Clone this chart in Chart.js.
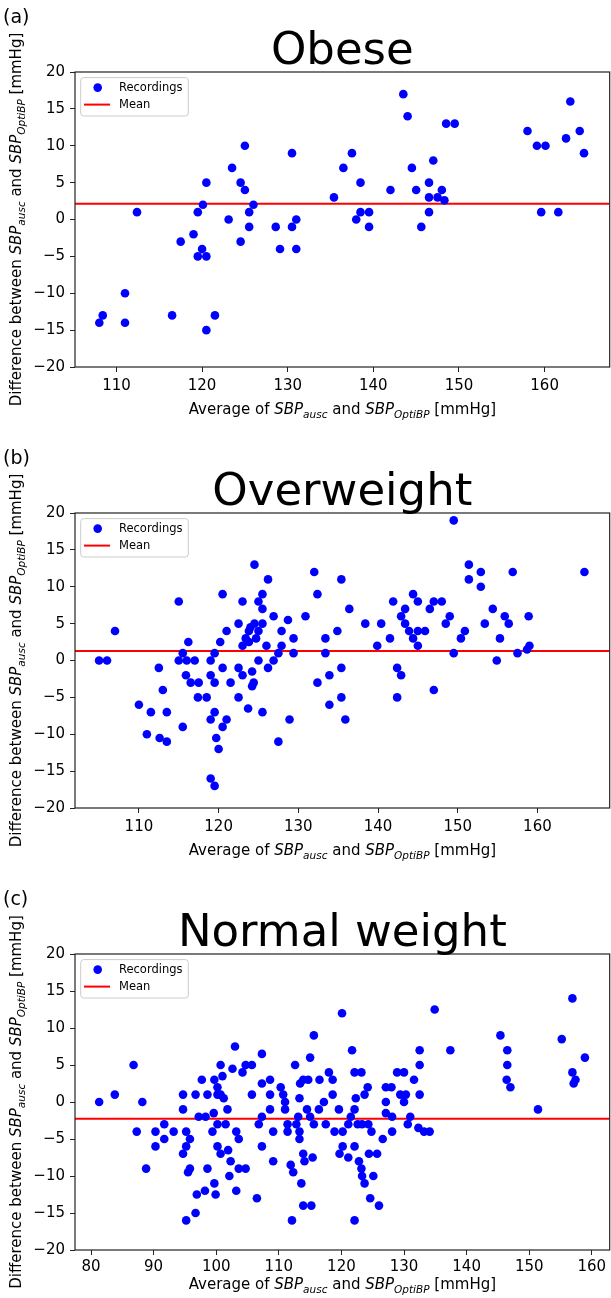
<!DOCTYPE html>
<html>
<head>
<meta charset="utf-8">
<script src="https://cdn.jsdelivr.net/npm/chart.js@4.4.1/dist/chart.umd.min.js"></script>
<style>
  html, body { margin: 0; padding: 0; background: #fff; }
  #wrap { position: relative; width: 611px; height: 1298px; overflow: hidden; }
  canvas { position: absolute; left: 0; }
</style>
</head>
<body>
<div id="wrap">
  <canvas id="chartA" width="614" height="441" style="top:0px"></canvas>
  <canvas id="chartB" width="614" height="441" style="top:441px"></canvas>
  <canvas id="chartC" width="614" height="416" style="top:882px"></canvas>
</div>
<script>
// (a) Obese
const obeseX = [108.0, 108.4, 111.0, 111.0, 112.4, 116.5, 117.5, 119.0, 119.5, 120.1, 120.5, 120.0, 119.5, 120.5, 120.5,
  121.5, 123.1, 123.5, 124.5, 125.0, 125.0, 125.5, 126.0, 125.5, 124.5, 128.6, 129.1, 130.5, 130.5, 131.0, 131.0,
  135.4, 136.5, 137.5, 138.5, 138.0, 138.5, 139.5, 139.5, 142.0, 143.5, 144.0, 144.5, 145.0, 145.6, 146.5, 147.0,
  146.5, 146.5, 147.5, 148.0, 148.3, 148.5, 149.5, 158.0, 159.1, 160.1, 159.6, 161.6, 162.5, 163.0, 164.1, 164.6];
const obeseY = [-14, -13, -10, -14, 1, -13, -3, -2, 1, 2, 5, -4, -5, -5, -15,
  -13, 0, 7, 5, 4, 10, 1, 2, -1, -3, -1, -4, 9, -1, 0, -4,
  3, 7, 9, 5, 0, 1, 1, -1, 4, 17, 14, 7, 4, -1, 5, 8,
  3, 1, 3, 4, 2.6, 13, 13, 12, 10, 10, 1, 1, 11, 16, 12, 9];
const obeseMean = 2.15;

// (b) Overweight
const overX = [105.0, 106.0, 107.0, 110.0, 111.0, 111.5, 112.5, 112.6, 113.0, 113.5, 113.5, 115.0, 115.5, 115.0, 116.0,
  117.0, 115.5, 116.2, 115.9, 116.5, 117.5, 117.4, 118.5, 119.0, 119.0, 119.5, 119.5, 119.5, 119.0, 119.7,
  120.0, 119.0, 119.5, 120.5, 120.5, 121.0, 120.2, 120.5, 121.0, 121.5, 122.5, 122.5, 123.0, 122.5, 123.0,
  123.0, 123.4, 123.8, 123.8, 124.2, 124.4, 124.2, 123.7, 124.5, 124.5, 125.0, 125.0, 125.5, 125.5, 125.5,
  125.5, 125.0, 126.0, 126.2, 126.2, 124.0, 124.7,
  126.9, 126.9, 127.5, 127.9, 127.9, 128.7, 127.5, 128.9, 129.4, 129.4, 130.9, 132.0, 132.4, 132.4, 133.4,
  133.4, 133.9, 133.9, 134.9, 135.4, 135.4, 135.4, 135.9, 136.4, 138.4, 139.9, 140.4, 141.5, 141.9, 142.4,
  142.9, 142.4, 142.9, 143.4, 144.4, 145.0, 143.4, 143.9, 144.4, 145.0, 145.0, 145.9, 146.5, 147.0, 148.0,
  147.0, 148.5, 149.0, 149.5, 149.5,
  151.4, 151.4, 152.9, 152.9, 156.9, 165.9, 154.4, 155.9, 156.4, 153.4, 158.9, 150.9, 150.4, 155.3, 154.9,
  157.5, 158.7, 159.0];
const overY = [0, 0, 4, -6, -10, -7, -1, -10.5, -4, -7, -11, 8, 1, 0, 0,
  0, -9, 2.5, -2, -3, -3, -5, -5, 0, -2, 1, -3, -7, -8, -10.5,
  -12, -16, -17, 9, -1, 4, 2.5, -9, -8, -3, -5, -1, -2, 5, 8,
  2, 3, 2.5, 4, -1.5, -3, -3.5, -6.5, 13, 5, 0, 8, 9, 7, 5,
  -7, 4, 2, 11, -1, 4.5, 3,
  6, 0, 1, 4, 2, 5.5, -11, -8, 3, 1, 6, 12, 9, -3, 3,
  1, -2, -6, 4, 11, -1, -5, -8, 7, 5, 2, 5, 3, 8, -1,
  -2, -5, 6, 7, 9, 8, 5, 4, 3, 4, 2, 4, 7, 8, 8,
  -4, 5, 6, 19, 1,
  13, 11, 12, 10, 12, 12, 7, 6, 5, 5, 6, 4, 3, 3, 0,
  1, 1.5, 2];
const overMean = 1.3;

// (c) Normal weight
const normalX = [81.3, 83.8, 86.8, 88.2, 87.3, 88.8, 90.3, 90.3, 91.7, 91.7, 93.2, 94.7, 94.7, 95.2, 95.8,
  95.2, 94.7, 95.8, 95.5, 95.2, 96.7, 96.7, 96.9, 98.2, 97.7, 97.2, 98.3, 98.6, 98.6, 99.7,
  99.7, 99.9, 100.2, 100.2, 99.6, 99.4, 100.7, 101.0, 100.7, 101.2, 100.2, 100.7, 101.8, 101.5, 100.2,
  101.9, 102.3, 102.1, 103.0, 102.6, 103.2, 103.6, 103.2, 103.6, 104.7, 104.2, 104.7, 105.7, 105.7, 106.5,
  107.3, 107.3, 107.3, 106.8, 107.3, 108.6, 108.6, 108.6, 109.1, 109.1, 110.3, 110.7, 111.0, 111.0, 111.4,
  111.4, 111.9, 112.3, 112.1, 112.6, 113.1, 113.3, 112.8, 113.3, 113.3, 113.9, 114.1, 113.6, 113.4, 113.9,
  115.2, 113.9, 114.7, 115.0, 115.6, 115.4, 114.5, 115.0, 115.6, 116.5, 116.4, 117.2, 117.5, 118.0, 118.6,
  118.6, 118.9, 120.2, 119.6, 120.1, 119.7, 120.2, 121.1, 121.1, 121.5, 121.7, 122.1, 122.1, 122.1, 123.2,
  122.3, 122.6, 123.3, 123.7, 124.2, 122.8, 123.2, 123.3, 123.7, 122.1, 124.3, 124.8, 124.4, 125.7, 125.1,
  124.6, 126.0, 126.6, 127.1, 127.1, 127.1, 128.0, 128.1, 128.1, 128.9, 130.0, 129.4, 130.3, 130.0, 130.6,
  131.0, 131.6, 132.5, 132.5, 132.5, 132.3, 133.2, 134.1, 134.9, 137.4, 145.4, 146.5, 146.5, 146.4, 147.0,
  151.4, 155.2, 156.9, 156.9, 157.4, 157.1, 158.9];
const normalY = [0, 1, 5, 0, -4, -9, -4, -6, -3, -5, -4, 1, -1, -4, -5,
  -6, -7, -9, -9.5, -16, -15, 1, -12.5, -12, 3, -2, -2, 1, -9, 3,
  -11, -12.5, 2, 1, -1.5, -4, 5, 3.5, 1, 0.5, -6, -7, -1, -3, -3,
  -6.5, -8, -10, 7.5, 4.5, -4, -5, -12, -9, -9, 4, 5, 5, 1, -13,
  6.5, 2.5, -2, -3, -6, 3, 1, -1, -4, -8, 2, 1, 0, -1, -3,
  -4, -8.5, -9.5, -16, 5, -2, 0.5, -3, -4, -5, -7, -8, -11, 2.5, -14,
  -14, 3, 3, 6, 9, -7.5, -1, -2, -3, 3, -1, 0, -3, 4, 3,
  1, -4, -4, -1, 12, -7, -6, -3, -7.5, -2, 7, -6, -1, 4, 4,
  0.5, -3, -3, 1, 2, -8, -9, -10, -11, -16, -3, -4, -7, -7, -10,
  -13, -14, -5, 2, 0, -1.5, 2, -2, -4, 4, 4, 1, 1, 0, -3,
  -2, 3, 1, 5, 7, -3.5, -4, -4, 12.5, 7, 9, 7, 5, 3, 2,
  -1, 8.5, 14, 4, 3, 2.5, 6];
const normalMean = -2.25;

const yTicks = [-20, -15, -10, -5, 0, 5, 10, 15, 20];
const xTicksAB = [110, 120, 130, 140, 150, 160];
const xTicksC = [80, 90, 100, 110, 120, 130, 140, 150, 160];

const SANS = '"DejaVu Sans", sans-serif';
const xLabel = [['Average of ', 0, 0], ['SBP', 1, 0], ['ausc', 1, 1], [' and ', 0, 0], ['SBP', 1, 0], ['OptiBP', 1, 1], [' [mmHg]', 0, 0]];
const yLabel = [['Difference between ', 0, 0], ['SBP', 1, 0], ['ausc', 1, 1], [' and ', 0, 0], ['SBP', 1, 0], ['OptiBP', 1, 1], [' [mmHg]', 0, 0]];

// text with italic parts and subscripts, centred on x
let richText = (ctx, parts, x, y, size) => {
  let fontOf = (p) => (p[1] ? 'italic ' : '') + (p[2] ? size * 0.7 : size) + 'px ' + SANS;
  let widths = parts.map(p => { ctx.font = fontOf(p); return ctx.measureText(p[0]).width; });
  let total = widths.reduce((s, w) => s + w, 0);
  let cx = x - total / 2;
  ctx.textAlign = 'left';
  ctx.textBaseline = 'alphabetic';
  parts.forEach((p, i) => {
    ctx.font = fontOf(p);
    ctx.fillText(p[0], cx, p[2] ? y + size * 0.25 : y);
    cx += widths[i];
  });
};

// matplotlib style minus sign
let fmt = (v) => String(v).replace('-', '\u2212');

const decor = {
  id: 'decor',
  afterDraw: (chart) => {
    const ctx = chart.ctx;
    const a = chart.chartArea;
    const o = chart.options.plugins.decor;
    ctx.save();
    ctx.fillStyle = '#000';

    // box round the axes
    ctx.strokeStyle = '#222';
    ctx.lineWidth = 1.2;
    ctx.strokeRect(a.left, a.top, a.right - a.left, a.bottom - a.top);

    // title and panel tag
    ctx.font = '45px ' + SANS;
    ctx.textAlign = 'center';
    ctx.textBaseline = 'alphabetic';
    ctx.fillText(o.title, (a.left + a.right) / 2, a.top - 8);
    ctx.font = '19px ' + SANS;
    ctx.textAlign = 'left';
    ctx.fillText(o.tag, 3, a.top - 49);

    // axis titles
    richText(ctx, xLabel, (a.left + a.right) / 2, a.bottom + o.xTitleGap, 15);
    ctx.save();
    ctx.translate(21, (a.top + a.bottom) / 2);
    ctx.rotate(-Math.PI / 2);
    richText(ctx, yLabel, 0, 0, 15);
    ctx.restore();

    // legend, upper left
    const ds = chart.data.datasets;
    const bx = a.left + 5.7, by = a.top + 5.6;
    ctx.beginPath();
    ctx.roundRect(bx, by, 107.6, 38.4, 3);
    ctx.fillStyle = 'rgba(255,255,255,0.8)';
    ctx.fill();
    ctx.strokeStyle = '#cccccc';
    ctx.lineWidth = 1;
    ctx.stroke();
    ctx.fillStyle = ds[0].backgroundColor;
    ctx.beginPath();
    ctx.arc(a.left + 22.7, a.top + 15.6, 4.3, 0, Math.PI * 2);
    ctx.fill();
    ctx.strokeStyle = ds[1].borderColor;
    ctx.lineWidth = 2;
    ctx.beginPath();
    ctx.moveTo(a.left + 9, a.top + 32.6);
    ctx.lineTo(a.left + 35, a.top + 32.6);
    ctx.stroke();
    ctx.fillStyle = '#000';
    ctx.font = '11.5px ' + SANS;
    ctx.textBaseline = 'middle';
    ctx.fillText(ds[0].label, a.left + 44, a.top + 15.6);
    ctx.fillText(ds[1].label, a.left + 44, a.top + 32.6);
    ctx.restore();
  }
};

let makePanel = (id, xs, ys, mean, xMin, xMax, xTicks, title, tag, padBottom, xTitleGap, tickPad) => {
  const ctx = document.getElementById(id);
  const dataset = {
    datasets: [{
      label: 'Recordings',
      data: xs.map((x, i) => ({ x: x, y: ys[i] })),
      backgroundColor: '#0000ff',
      borderWidth: 0,
      pointRadius: 4.3,
      pointHoverRadius: 4.3
    }, {
      type: 'line',
      label: 'Mean',
      data: [{ x: xMin, y: mean }, { x: xMax, y: mean }],
      borderColor: '#ff0000',
      borderWidth: 2,
      pointRadius: 0,
      fill: false
    }]
  };
  const tickFont = { family: SANS, size: 15 };
  const config = {
    type: 'scatter',
    data: dataset,
    plugins: [decor],
    options: {
      responsive: false,
      animation: false,
      layout: { padding: { left: 0, right: 1, top: 72, bottom: padBottom } },
      scales: {
        x: {
          type: 'linear',
          min: xMin,
          max: xMax,
          afterBuildTicks: (s) => { s.ticks = xTicks.map(v => ({ value: v })); },
          afterFit: (s) => { s.height = 30; },
          ticks: { font: tickFont, color: '#000', padding: tickPad, maxRotation: 0, callback: fmt },
          grid: { display: true, drawOnChartArea: false, drawTicks: true, tickLength: 5, tickColor: '#222' },
          border: { display: false }
        },
        y: {
          min: -20,
          max: 20,
          afterBuildTicks: (s) => { s.ticks = yTicks.map(v => ({ value: v })); },
          afterFit: (s) => { s.width = 75; },
          ticks: { font: tickFont, color: '#000', padding: 5, callback: fmt },
          grid: { display: true, drawOnChartArea: false, drawTicks: true, tickLength: 5, tickColor: '#222' },
          border: { display: false }
        }
      },
      plugins: {
        legend: { display: false },
        tooltip: { enabled: false },
        decor: { title: title, tag: tag, xTitleGap: xTitleGap }
      }
    }
  };
  const chart = new Chart(ctx, config);
};

(function () {
  makePanel('chartA', obeseX, obeseY, obeseMean, 105.16, 167.6, xTicksAB, 'Obese', '(a)', 44, 47, 5);
  makePanel('chartB', overX, overY, overMean, 101.98, 169.07, xTicksAB, 'Overweight', '(b)', 44, 47, 5);
  makePanel('chartC', normalX, normalY, normalMean, 77.44, 162.86, xTicksC, 'Normal weight', '(c)', 18, 39, 3);
})();
</script>
</body>
</html>
